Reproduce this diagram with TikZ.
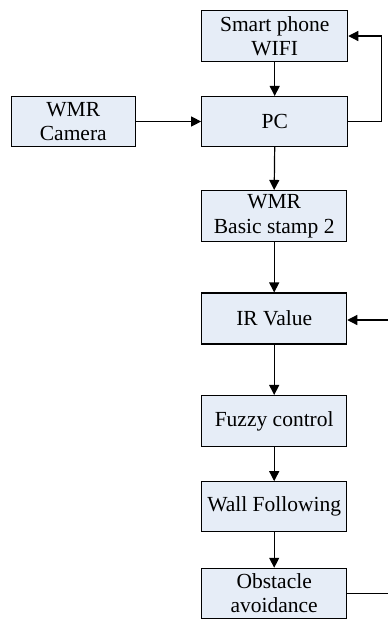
\documentclass[tikz,border=0pt]{standalone}
\usepackage{fontspec}
\setmainfont{Liberation Serif}
\usetikzlibrary{arrows.meta}
\definecolor{boxfill}{RGB}{230,237,247}
\begin{document}
\begin{tikzpicture}[x=1pt,y=-1pt,
  blk/.style={draw=black,line width=1.1pt,fill=boxfill,inner sep=0pt,
    minimum width=146pt,minimum height=51pt,align=center,
    font=\fontsize{21.5}{24.5}\selectfont},
  flow/.style={line width=1.2pt,-{Triangle[length=10pt,width=10pt]}},
  plain/.style={line width=1.2pt}]
\useasboundingbox (0,0) rectangle (388,619);
\node[blk] (phone) at (274.7,36) {Smart phone\\WIFI};
\node[blk,minimum height=50pt] (pc) at (274.7,121.5) {PC};
\node[blk,minimum width=123.5pt,minimum height=50pt] (cam) at (73.3,121.5) {WMR\\Camera};
\node[blk,minimum width=145pt] (bs2) at (274.2,216) {WMR\\Basic stamp 2};
\node[blk,minimum width=145pt] (ir) at (274.2,318.5) {IR Value};
\node[blk,minimum width=145pt] (fuzzy) at (274.2,421) {Fuzzy control};
\node[blk,minimum width=145pt,minimum height=50pt] (wall) at (274.2,506.7) {Wall Following};
\node[blk,minimum width=145pt,minimum height=50pt] (obst) at (274.2,593.3) {Obstacle\\avoidance};
\coordinate (loopR) at (381.5,121.5);
\coordinate (fbOut) at (388,593.3);
\coordinate (fbIn) at (388,320);
\draw[flow] (phone.south) -- (pc.north);
\draw[flow] (cam.east) -- (pc.west);
\draw[flow] (pc.east) -- (loopR) |- (phone.east);
\draw[flow] (pc.south) -- (bs2.north);
\draw[flow] (bs2.south) -- (ir.north);
\draw[flow] (ir.south) -- (fuzzy.north);
\draw[flow] (fuzzy.south) -- (wall.north);
\draw[flow] (wall.south) -- (obst.north);
\draw[plain] (obst.east) -- (fbOut);
\draw[flow] (fbIn) -- (ir.east |- fbIn);
\end{tikzpicture}
\end{document}
